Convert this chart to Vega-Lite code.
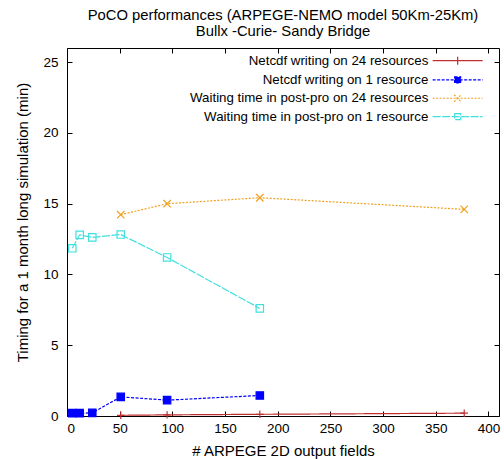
{
  "$schema": "https://vega.github.io/schema/vega-lite/v6.json",
  "width": 432,
  "height": 368,
  "autosize": "none",
  "padding": {"left": 67, "top": 48, "right": 5, "bottom": 43},
  "background": "white",
  "title": {
    "text": ["PoCO performances (ARPEGE-NEMO model 50Km-25Km)", "Bullx -Curie- Sandy Bridge"],
    "font": "Liberation Sans", "fontSize": 14.8, "fontWeight": "normal", "color": "black",
    "anchor": "middle", "offset": 9, "lineHeight": 16
  },
  "config": {
    "view": {"stroke": "black", "strokeWidth": 1},
    "axis": {
      "labelFont": "Liberation Sans", "titleFont": "Liberation Sans",
      "labelFontSize": 13.5, "titleFontSize": 15, "titleFontWeight": "normal",
      "labelColor": "black", "titleColor": "black", "tickColor": "black",
      "grid": false, "domain": false
    }
  },
  "data": {
    "values": [
      {"series": "Netcdf writing on 24 resources", "fields": 51, "time": 0.05},
      {"series": "Netcdf writing on 24 resources", "fields": 95, "time": 0.08},
      {"series": "Netcdf writing on 24 resources", "fields": 183, "time": 0.12},
      {"series": "Netcdf writing on 24 resources", "fields": 377, "time": 0.2},
      {"series": "Netcdf writing on 1 resource", "fields": 5, "time": 0.2},
      {"series": "Netcdf writing on 1 resource", "fields": 12, "time": 0.2},
      {"series": "Netcdf writing on 1 resource", "fields": 24, "time": 0.22},
      {"series": "Netcdf writing on 1 resource", "fields": 51, "time": 1.35},
      {"series": "Netcdf writing on 1 resource", "fields": 95, "time": 1.12},
      {"series": "Netcdf writing on 1 resource", "fields": 183, "time": 1.45},
      {"series": "Waiting time in post-pro on 24 resources", "fields": 51, "time": 14.22},
      {"series": "Waiting time in post-pro on 24 resources", "fields": 95, "time": 15.0},
      {"series": "Waiting time in post-pro on 24 resources", "fields": 183, "time": 15.42},
      {"series": "Waiting time in post-pro on 24 resources", "fields": 377, "time": 14.6},
      {"series": "Waiting time in post-pro on 1 resource", "fields": 5, "time": 11.85},
      {"series": "Waiting time in post-pro on 1 resource", "fields": 12, "time": 12.8},
      {"series": "Waiting time in post-pro on 1 resource", "fields": 24, "time": 12.62},
      {"series": "Waiting time in post-pro on 1 resource", "fields": 51, "time": 12.82},
      {"series": "Waiting time in post-pro on 1 resource", "fields": 95, "time": 11.2},
      {"series": "Waiting time in post-pro on 1 resource", "fields": 183, "time": 7.6}
    ]
  },
  "layer": [
    {
      "mark": {"type": "line", "strokeWidth": 1.2},
      "encoding": {
        "x": {
          "field": "fields", "type": "quantitative",
          "scale": {"domain": [0, 410], "nice": false},
          "axis": {"orient": "bottom", "values": [0, 50, 100, 150, 200, 250, 300, 350, 400], "tickSize": -5, "labelPadding": 10, "title": "# ARPEGE 2D output fields", "titlePadding": 9}
        },
        "y": {
          "field": "time", "type": "quantitative",
          "scale": {"domain": [0, 26], "nice": false},
          "axis": {"orient": "left", "values": [0, 5, 10, 15, 20, 25], "tickSize": -5, "labelPadding": 14, "title": "Timing for a 1 month long simulation (min)", "titlePadding": 12, "titleY": 174}
        },
        "color": {
          "field": "series", "type": "nominal",
          "scale": {
            "domain": ["Netcdf writing on 24 resources", "Netcdf writing on 1 resource", "Waiting time in post-pro on 24 resources", "Waiting time in post-pro on 1 resource"],
            "range": ["#c03030", "#0000ff", "#f0a020", "#40e0e0"]
          },
          "legend": {
            "orient": "none", "legendX": 384, "legendY": 6, "padding": 0,
            "title": null, "labelFont": "Liberation Sans", "labelFontSize": 13.3, "labelColor": "black",
            "labelAlign": "right", "labelOffset": -36, "labelLimit": 400,
            "symbolSize": 100, "symbolStrokeWidth": 1.2, "rowPadding": 4.3,
            "encode": {
              "symbols": {
                "update": {
                  "shape": {"signal": "datum.index === 0 ? 'M-5,0H5M0,-0.8V0.8' : datum.index === 1 ? 'M-5,0H5M-0.6,-0.6H0.6V0.6H-0.6Z' : datum.index === 2 ? 'M-5,0H5M-0.7,-0.7L0.7,0.7M-0.7,0.7L0.7,-0.7' : 'M-5,0H5M-0.6,-0.6H0.6V0.6H-0.6Z'"},
                  "fill": {"signal": "datum.index === 1 ? '#0000ff' : 'transparent'"}
                }
              }
            }
          }
        },
        "strokeDash": {
          "field": "series", "type": "nominal",
          "scale": {
            "domain": ["Netcdf writing on 24 resources", "Netcdf writing on 1 resource", "Waiting time in post-pro on 24 resources", "Waiting time in post-pro on 1 resource"],
            "range": [[1, 0], [3, 1.5], [2, 1.5], [8, 1.5]]
          }
        }
      }
    },
    {
      "mark": {"type": "point", "filled": false, "strokeWidth": 1.2, "opacity": 1, "size": 55},
      "encoding": {
        "x": {
          "field": "fields", "type": "quantitative",
          "axis": {"orient": "top", "values": [0, 50, 100, 150, 200, 250, 300, 350, 400], "tickSize": -5, "labels": false, "title": null}
        },
        "y": {
          "field": "time", "type": "quantitative",
          "axis": {"orient": "right", "values": [0, 5, 10, 15, 20, 25], "tickSize": -5, "labels": false, "title": null}
        },
        "color": {"field": "series", "type": "nominal"},
        "shape": {
          "condition": [
            {"test": "datum.series === 'Netcdf writing on 24 resources'", "value": "M-1,0H1M0,-1V1"},
            {"test": "datum.series === 'Waiting time in post-pro on 24 resources'", "value": "M-1,-1L1,1M-1,1L1,-1"}
          ],
          "value": "square"
        },
        "fill": {
          "condition": {"test": "datum.series === 'Netcdf writing on 1 resource'", "value": "#0000ff"},
          "value": "transparent"
        }
      }
    }
  ],
  "resolve": {"axis": {"x": "independent", "y": "independent"}}
}
